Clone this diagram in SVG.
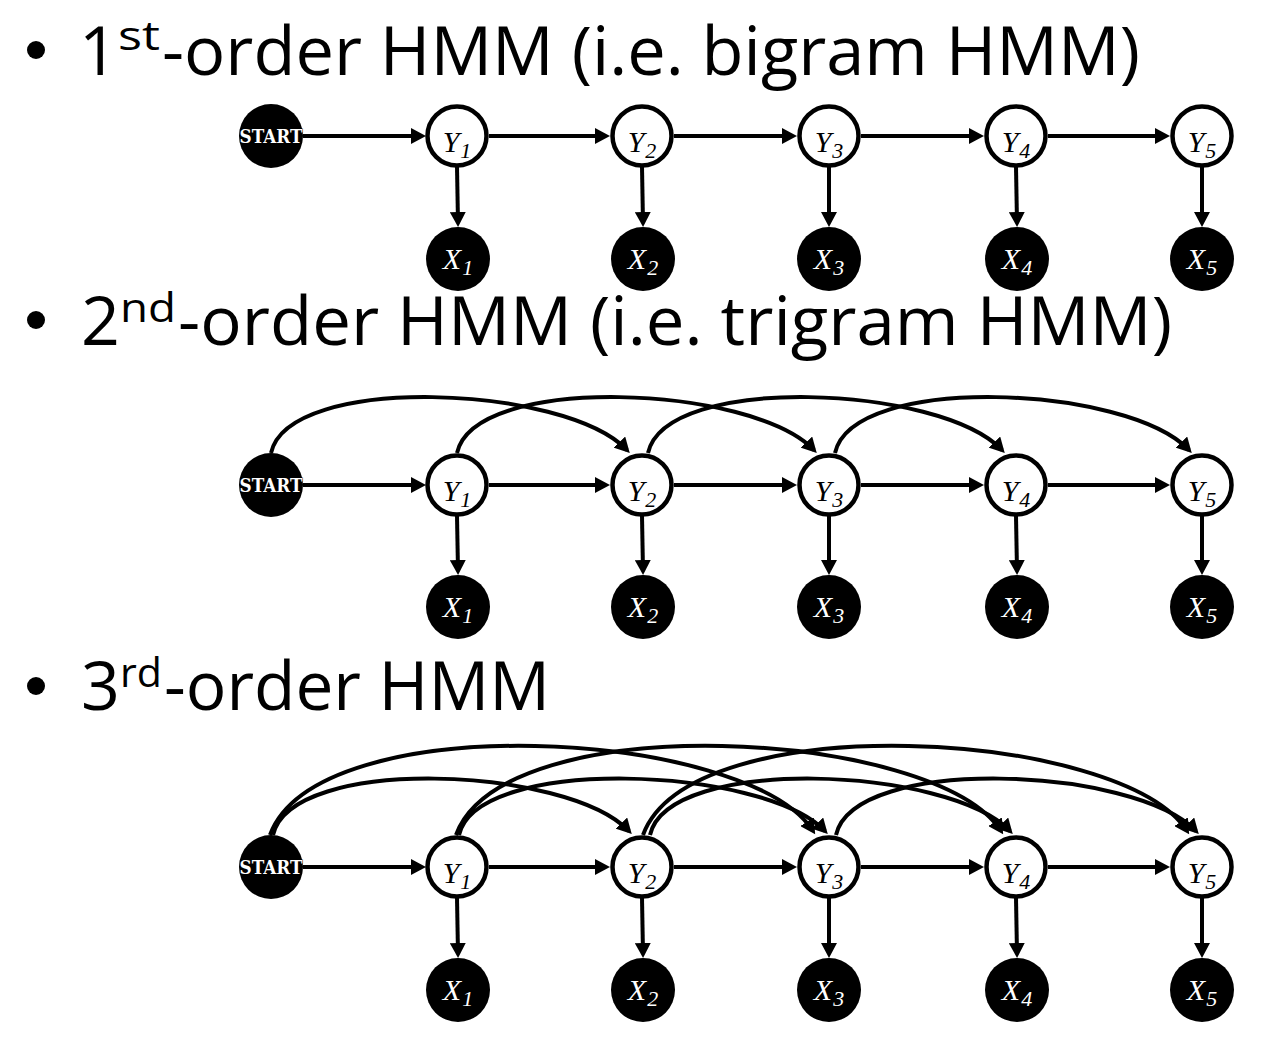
<svg xmlns="http://www.w3.org/2000/svg" width="1262" height="1042" viewBox="0 0 1262 1042">
<style>
.title{font-family:"Open Sans","Noto Sans",sans-serif;font-size:68px;fill:#000}
.sup{font-family:"Open Sans","Noto Sans",sans-serif;font-size:40px;fill:#000}
.y{fill:#fff;stroke:#000;stroke-width:4.5}
.x{fill:#000}
.lab{font-family:"Liberation Serif","Times New Roman",serif;font-style:italic;font-size:30px;text-anchor:middle}
.sub{font-size:22px}
.st{font-family:"DejaVu Serif","Liberation Serif",serif;font-weight:bold;font-size:18px;fill:#fff;stroke:#000;stroke-width:0.8;paint-order:stroke;text-anchor:middle}
.e{fill:none;stroke:#000;stroke-width:4;marker-end:url(#ah)}
</style>
<defs>
<marker id="ah" markerUnits="userSpaceOnUse" markerWidth="16" markerHeight="16" refX="11" refY="8" orient="auto" viewBox="0 0 16 16">
<path d="M0,0 L15,8 L0,16 z" fill="#000"/>
</marker>
</defs>

<g id="titles">
<circle cx="36" cy="50" r="9"/>
<text class="title" x="79" y="75">1</text>
<text class="sup" x="118" y="50" textLength="42" lengthAdjust="spacingAndGlyphs">st</text>
<text class="title" x="162" y="75" textLength="978" lengthAdjust="spacingAndGlyphs">-order HMM (i.e. bigram HMM)</text>
<circle cx="36" cy="320" r="9"/>
<text class="title" x="81" y="345">2</text>
<text class="sup" x="120" y="322" textLength="56" lengthAdjust="spacingAndGlyphs">nd</text>
<text class="title" x="178" y="345" textLength="994" lengthAdjust="spacingAndGlyphs">-order HMM (i.e. trigram HMM)</text>
<circle cx="36" cy="686" r="9"/>
<text class="title" x="81" y="710">3</text>
<text class="sup" x="120" y="687" textLength="42" lengthAdjust="spacingAndGlyphs">rd</text>
<text class="title" x="164" y="710" textLength="386" lengthAdjust="spacingAndGlyphs">-order HMM</text>
</g>

<g id="connectors">
<!-- row 1 -->
<path class="e" d="M303 136 L422 136"/>
<path class="e" d="M489 136 L606 136"/>
<path class="e" d="M674 136 L793 136"/>
<path class="e" d="M861 136 L980 136"/>
<path class="e" d="M1048 136 L1166 136"/>
<path class="e" d="M457 167 L458 223"/>
<path class="e" d="M642 167 L643 223"/>
<path class="e" d="M829 167 L829 223"/>
<path class="e" d="M1016 167 L1017 223"/>
<path class="e" d="M1202 167 L1202 223"/>
<!-- row 2 -->
<path class="e" d="M303 485 L422 485"/>
<path class="e" d="M489 485 L606 485"/>
<path class="e" d="M674 485 L793 485"/>
<path class="e" d="M861 485 L980 485"/>
<path class="e" d="M1048 485 L1166 485"/>
<path class="e" d="M457 516 L458 571"/>
<path class="e" d="M642 516 L643 571"/>
<path class="e" d="M829 516 L829 571"/>
<path class="e" d="M1016 516 L1017 571"/>
<path class="e" d="M1202 516 L1202 571"/>
<path class="e" d="M271 453 C289 373 565 385 627 450"/>
<path class="e" d="M457 453 C475 373 752 385 814 450"/>
<path class="e" d="M648 453 C666 373 940 385 1002 450"/>
<path class="e" d="M835 453 C853 373 1127 385 1189 450"/>
<!-- row 3 -->
<path class="e" d="M303 867 L422 867"/>
<path class="e" d="M489 867 L606 867"/>
<path class="e" d="M674 867 L793 867"/>
<path class="e" d="M861 867 L980 867"/>
<path class="e" d="M1048 867 L1166 867"/>
<path class="e" d="M457 898 L458 954"/>
<path class="e" d="M642 898 L643 954"/>
<path class="e" d="M829 898 L829 954"/>
<path class="e" d="M1016 898 L1017 954"/>
<path class="e" d="M1202 898 L1202 954"/>
<path class="e" d="M273 835 C291 755 567 766 629 831"/>
<path class="e" d="M459 835 C477 755 763 766 825 831"/>
<path class="e" d="M650 835 C668 755 948 766 1010 831"/>
<path class="e" d="M836 835 C854 755 1134 766 1196 831"/>
<path class="e" d="M270 835 C318 705 748 729 813 831"/>
<path class="e" d="M456 835 C504 705 936 729 1001 831"/>
<path class="e" d="M643 835 C691 705 1122 729 1187 831"/>
</g>

<!-- row 1 nodes -->
<g id="start1"><circle class="x" cx="271" cy="136" r="32"/><text class="st" x="271" y="143" textLength="63" lengthAdjust="spacingAndGlyphs">START</text></g>
<g id="r1y1"><circle class="y" cx="457" cy="136" r="29.5"/><text class="lab" x="457" y="152">Y<tspan class="sub" dx="1" dy="6">1</tspan></text></g>
<g id="r1y2"><circle class="y" cx="642" cy="136" r="29.5"/><text class="lab" x="642" y="152">Y<tspan class="sub" dx="1" dy="6">2</tspan></text></g>
<g id="r1y3"><circle class="y" cx="829" cy="136" r="29.5"/><text class="lab" x="829" y="152">Y<tspan class="sub" dx="1" dy="6">3</tspan></text></g>
<g id="r1y4"><circle class="y" cx="1016" cy="136" r="29.5"/><text class="lab" x="1016" y="152">Y<tspan class="sub" dx="1" dy="6">4</tspan></text></g>
<g id="r1y5"><circle class="y" cx="1202" cy="136" r="29.5"/><text class="lab" x="1202" y="152">Y<tspan class="sub" dx="1" dy="6">5</tspan></text></g>
<g id="r1x1"><circle class="x" cx="458" cy="259" r="32"/><text class="lab" x="458" y="269" fill="#fff">X<tspan class="sub" dx="1" dy="6">1</tspan></text></g>
<g id="r1x2"><circle class="x" cx="643" cy="259" r="32"/><text class="lab" x="643" y="269" fill="#fff">X<tspan class="sub" dx="1" dy="6">2</tspan></text></g>
<g id="r1x3"><circle class="x" cx="829" cy="259" r="32"/><text class="lab" x="829" y="269" fill="#fff">X<tspan class="sub" dx="1" dy="6">3</tspan></text></g>
<g id="r1x4"><circle class="x" cx="1017" cy="259" r="32"/><text class="lab" x="1017" y="269" fill="#fff">X<tspan class="sub" dx="1" dy="6">4</tspan></text></g>
<g id="r1x5"><circle class="x" cx="1202" cy="259" r="32"/><text class="lab" x="1202" y="269" fill="#fff">X<tspan class="sub" dx="1" dy="6">5</tspan></text></g>

<!-- row 2 nodes -->
<g id="start2"><circle class="x" cx="271" cy="485" r="32"/><text class="st" x="271" y="492" textLength="63" lengthAdjust="spacingAndGlyphs">START</text></g>
<g id="r2y1"><circle class="y" cx="457" cy="485" r="29.5"/><text class="lab" x="457" y="501">Y<tspan class="sub" dx="1" dy="6">1</tspan></text></g>
<g id="r2y2"><circle class="y" cx="642" cy="485" r="29.5"/><text class="lab" x="642" y="501">Y<tspan class="sub" dx="1" dy="6">2</tspan></text></g>
<g id="r2y3"><circle class="y" cx="829" cy="485" r="29.5"/><text class="lab" x="829" y="501">Y<tspan class="sub" dx="1" dy="6">3</tspan></text></g>
<g id="r2y4"><circle class="y" cx="1016" cy="485" r="29.5"/><text class="lab" x="1016" y="501">Y<tspan class="sub" dx="1" dy="6">4</tspan></text></g>
<g id="r2y5"><circle class="y" cx="1202" cy="485" r="29.5"/><text class="lab" x="1202" y="501">Y<tspan class="sub" dx="1" dy="6">5</tspan></text></g>
<g id="r2x1"><circle class="x" cx="458" cy="607" r="32"/><text class="lab" x="458" y="617" fill="#fff">X<tspan class="sub" dx="1" dy="6">1</tspan></text></g>
<g id="r2x2"><circle class="x" cx="643" cy="607" r="32"/><text class="lab" x="643" y="617" fill="#fff">X<tspan class="sub" dx="1" dy="6">2</tspan></text></g>
<g id="r2x3"><circle class="x" cx="829" cy="607" r="32"/><text class="lab" x="829" y="617" fill="#fff">X<tspan class="sub" dx="1" dy="6">3</tspan></text></g>
<g id="r2x4"><circle class="x" cx="1017" cy="607" r="32"/><text class="lab" x="1017" y="617" fill="#fff">X<tspan class="sub" dx="1" dy="6">4</tspan></text></g>
<g id="r2x5"><circle class="x" cx="1202" cy="607" r="32"/><text class="lab" x="1202" y="617" fill="#fff">X<tspan class="sub" dx="1" dy="6">5</tspan></text></g>

<!-- row 3 nodes -->
<g id="start3"><circle class="x" cx="271" cy="867" r="32"/><text class="st" x="271" y="874" textLength="63" lengthAdjust="spacingAndGlyphs">START</text></g>
<g id="r3y1"><circle class="y" cx="457" cy="867" r="29.5"/><text class="lab" x="457" y="883">Y<tspan class="sub" dx="1" dy="6">1</tspan></text></g>
<g id="r3y2"><circle class="y" cx="642" cy="867" r="29.5"/><text class="lab" x="642" y="883">Y<tspan class="sub" dx="1" dy="6">2</tspan></text></g>
<g id="r3y3"><circle class="y" cx="829" cy="867" r="29.5"/><text class="lab" x="829" y="883">Y<tspan class="sub" dx="1" dy="6">3</tspan></text></g>
<g id="r3y4"><circle class="y" cx="1016" cy="867" r="29.5"/><text class="lab" x="1016" y="883">Y<tspan class="sub" dx="1" dy="6">4</tspan></text></g>
<g id="r3y5"><circle class="y" cx="1202" cy="867" r="29.5"/><text class="lab" x="1202" y="883">Y<tspan class="sub" dx="1" dy="6">5</tspan></text></g>
<g id="r3x1"><circle class="x" cx="458" cy="990" r="32"/><text class="lab" x="458" y="1000" fill="#fff">X<tspan class="sub" dx="1" dy="6">1</tspan></text></g>
<g id="r3x2"><circle class="x" cx="643" cy="990" r="32"/><text class="lab" x="643" y="1000" fill="#fff">X<tspan class="sub" dx="1" dy="6">2</tspan></text></g>
<g id="r3x3"><circle class="x" cx="829" cy="990" r="32"/><text class="lab" x="829" y="1000" fill="#fff">X<tspan class="sub" dx="1" dy="6">3</tspan></text></g>
<g id="r3x4"><circle class="x" cx="1017" cy="990" r="32"/><text class="lab" x="1017" y="1000" fill="#fff">X<tspan class="sub" dx="1" dy="6">4</tspan></text></g>
<g id="r3x5"><circle class="x" cx="1202" cy="990" r="32"/><text class="lab" x="1202" y="1000" fill="#fff">X<tspan class="sub" dx="1" dy="6">5</tspan></text></g>
</svg>
